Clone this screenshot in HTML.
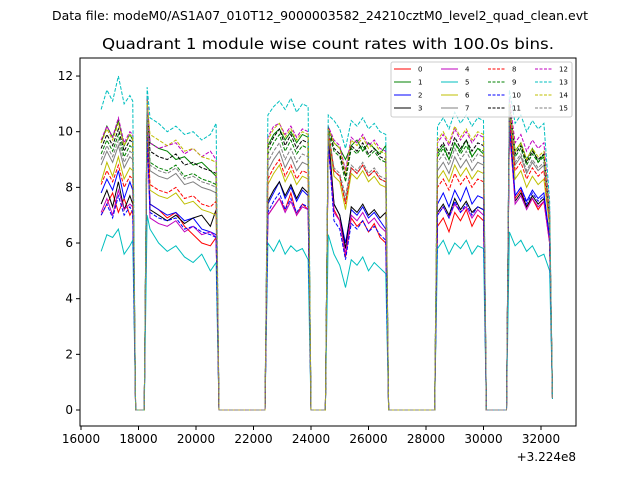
<!DOCTYPE html>
<html><head><meta charset="utf-8"><style>
body{margin:0;background:#fff}
svg text{font-family:"DejaVu Sans","Liberation Sans",sans-serif}
</style></head><body>
<svg id="chart" width="640" height="480" viewBox="0 0 640 480" xmlns="http://www.w3.org/2000/svg">
<rect width="640" height="480" fill="#fff"/>
<text x="320" y="20" font-size="12" text-anchor="middle" textLength="536" lengthAdjust="spacingAndGlyphs">Data file: modeM0/AS1A07_010T12_9000003582_24210cztM0_level2_quad_clean.evt</text>
<text x="328" y="49" font-size="15" text-anchor="middle" textLength="452" lengthAdjust="spacingAndGlyphs">Quadrant 1 module wise count rates with 100.0s bins.</text>
<g id="plot"></g>
<g id="axes"></g>
<g id="legend"></g>
</svg>
<script>
const times=[16700,16900,17100,17300,17500,17700,17800,17900,18200,18300,18400,18700,19000,19300,19600,19900,20200,20500,20700,20800,22400,22500,22700,22900,23100,23300,23500,23700,23900,24000,24500,24600,24800,25000,25200,25400,25600,25800,26000,26200,26400,26600,26700,28300,28400,28600,28800,29000,29200,29400,29600,29800,30000,30100,30800,30900,31100,31300,31500,31700,31900,32100,32300,32400];
const s0=[7.0,7.4,7.8,7.1,7.6,7.0,7.2,0,0,10.0,7.4,7.2,6.9,7.1,6.6,6.3,6.0,5.9,6.2,0,0,7.0,7.3,7.6,7.2,7.8,7.0,7.4,7.2,0,0,9.5,7.2,6.8,5.5,6.9,6.6,6.8,6.4,6.7,6.2,6.0,0,0,6.6,6.9,6.4,7.1,6.8,7.2,6.6,7.0,6.8,0,0,10.0,7.6,7.9,7.3,7.6,7.2,7.5,6.0,0.4];
const s1=[9.6,10.2,9.8,10.4,9.5,9.9,9.7,0,0,11.0,9.6,9.4,9.3,9.0,9.1,8.8,8.9,8.6,8.4,0,0,9.5,9.9,10.1,9.7,10.0,9.6,9.9,9.8,0,0,10.1,9.6,9.4,9.0,9.5,9.7,9.3,9.6,9.4,9.2,9.5,0,0,9.2,9.5,9.0,9.6,9.3,9.7,9.1,9.4,9.2,0,0,11.0,9.3,9.6,9.0,9.4,8.9,9.2,6.5,0.4];
const s2=[7.8,8.3,7.9,8.6,7.6,8.2,7.9,0,0,10.4,7.4,7.2,7.0,7.1,6.8,6.9,6.5,6.4,6.3,0,0,7.4,7.8,8.2,7.6,8.0,7.5,7.9,7.7,0,0,9.7,7.4,7.0,6.0,7.2,7.0,7.3,6.9,7.1,6.8,6.5,0,0,7.4,7.8,7.3,7.9,7.5,8.0,7.4,7.7,7.6,0,0,10.5,7.7,8.0,7.5,7.9,7.6,7.8,6.2,0.4];
const s3=[7.4,7.9,7.3,8.2,7.2,7.7,7.4,0,0,10.6,7.2,7.0,6.8,7.0,6.7,6.9,7.0,6.6,7.2,0,0,7.5,7.9,8.2,7.7,8.1,7.6,8.0,7.8,0,0,10.0,7.4,7.0,5.8,7.3,7.1,7.4,7.0,7.2,6.9,7.1,0,0,7.1,7.4,7.0,7.6,7.2,7.5,7.1,7.3,7.2,0,0,10.6,7.5,7.8,7.3,7.7,7.4,7.6,6.1,0.4];
const s4=[7.1,7.6,7.0,7.9,7.2,7.4,7.3,0,0,10.2,6.9,6.7,6.6,6.8,6.4,6.6,6.3,6.4,6.2,0,0,7.0,7.3,7.6,7.1,7.5,7.0,7.3,7.2,0,0,9.6,7.1,6.8,5.6,7.0,6.8,7.1,6.7,6.9,6.6,6.4,0,0,7.0,7.3,6.9,7.4,7.1,7.3,6.9,7.2,7.0,0,0,10.3,7.4,7.7,7.2,7.6,7.3,7.5,6.0,0.4];
const s5=[5.7,6.3,6.2,6.5,5.6,5.9,6.1,0,0,7.0,6.5,6.0,5.7,5.9,5.5,5.3,5.6,5.0,5.3,0,0,6.0,5.7,6.1,5.6,5.9,5.7,5.8,5.4,0,0,6.3,5.6,5.2,4.4,5.4,5.2,5.5,5.0,5.3,5.1,4.9,0,0,5.8,6.1,5.6,6.0,5.8,6.1,5.6,5.9,5.8,0,0,6.4,5.9,6.1,5.7,5.9,5.5,5.6,5.0,0.4];
const s6=[8.2,8.9,8.4,9.1,8.3,8.7,8.6,0,0,10.8,7.9,7.7,7.6,7.8,7.4,7.5,7.2,7.1,7.0,0,0,8.1,8.5,8.8,8.2,8.6,8.1,8.4,8.3,0,0,9.9,8.4,8.2,7.2,8.5,8.3,8.6,8.2,8.4,8.1,8.0,0,0,8.3,8.6,8.2,8.8,8.4,8.7,8.3,8.6,8.5,0,0,10.8,8.3,8.6,8.0,8.4,8.1,8.3,6.6,0.4];
const s7=[8.8,9.3,8.9,9.5,8.7,9.1,9.0,0,0,10.9,8.6,8.4,8.3,8.5,8.1,8.2,8.0,7.9,7.8,0,0,8.6,9.0,9.3,8.7,9.1,8.6,8.9,8.8,0,0,10.0,8.6,8.4,7.5,8.7,8.5,8.8,8.4,8.6,8.3,8.2,0,0,8.6,8.9,8.5,9.1,8.7,9.0,8.6,8.9,8.8,0,0,10.9,8.8,9.1,8.5,8.9,8.6,8.8,6.9,0.4];
const s8=[8.1,8.6,8.2,8.8,8.0,8.4,8.3,0,0,10.5,8.1,7.9,7.8,8.0,7.6,7.7,7.4,7.3,7.5,0,0,8.3,8.7,9.0,8.4,8.8,8.3,8.6,8.5,0,0,10.1,8.6,8.4,7.4,8.7,8.5,8.8,8.4,8.6,8.3,8.2,0,0,8.0,8.3,7.9,8.5,8.1,8.4,8.0,8.3,8.2,0,0,10.6,8.6,8.9,8.3,8.7,8.4,8.6,6.8,0.4];
const s9=[9.2,9.7,9.3,9.9,9.1,9.5,9.4,0,0,11.2,8.9,8.7,8.6,8.8,8.4,8.5,8.3,8.2,8.1,0,0,9.2,9.6,9.9,9.3,9.7,9.2,9.5,9.4,0,0,10.0,9.3,9.1,8.2,9.4,9.2,9.5,9.1,9.3,9.0,8.9,0,0,9.1,9.4,9.0,9.6,9.2,9.5,9.1,9.4,9.3,0,0,11.0,9.1,9.4,8.8,9.2,8.9,9.1,7.0,0.4];
const s10=[7.0,7.4,6.9,7.7,7.0,7.3,7.1,0,0,10.0,7.1,6.9,6.8,6.9,6.5,6.6,6.4,6.3,6.2,0,0,7.1,7.5,7.8,7.2,7.6,7.1,7.4,7.3,0,0,9.6,6.8,6.5,5.4,6.7,6.5,6.8,6.4,6.6,6.3,6.1,0,0,7.0,7.3,6.9,7.5,7.1,7.4,7.0,7.3,7.2,0,0,10.2,7.7,8.0,7.4,7.8,7.5,7.7,6.2,0.4];
const s11=[9.4,9.9,9.5,10.1,9.3,9.7,9.6,0,0,11.0,9.3,9.1,9.0,9.2,8.8,8.9,8.7,8.6,8.5,0,0,9.4,9.8,10.1,9.5,9.9,9.4,9.7,9.6,0,0,10.2,9.4,9.2,8.4,9.5,9.3,9.6,9.2,9.4,9.1,9.0,0,0,9.3,9.6,9.2,9.8,9.4,9.7,9.3,9.6,9.5,0,0,11.0,9.2,9.5,8.9,9.3,9.0,9.2,7.0,0.4];
const s12=[9.7,10.2,9.8,10.5,9.6,10.0,9.9,0,0,11.3,9.6,9.4,9.5,9.6,9.2,9.4,9.1,9.3,9.0,0,0,9.8,10.2,10.3,9.9,10.2,9.8,10.1,10.0,0,0,10.2,9.7,9.5,8.6,9.8,9.6,9.9,9.5,9.7,9.4,9.3,0,0,9.6,9.9,9.5,10.1,9.7,10.0,9.6,9.9,9.8,0,0,11.2,9.6,9.9,9.3,9.7,9.4,9.6,7.2,0.4];
const s13=[10.8,11.5,11.1,12.0,11.0,11.3,11.1,0,0,11.6,10.5,10.3,10.0,10.2,9.9,10.0,9.7,9.9,10.3,0,0,10.6,10.9,11.1,10.8,11.2,10.7,11.0,10.9,0,0,10.6,10.4,10.1,9.4,10.4,10.2,10.5,10.1,10.3,10.0,9.9,0,0,10.2,10.5,10.1,10.7,10.3,10.6,10.2,10.5,10.4,0,0,11.5,10.3,10.6,10.0,10.4,10.1,10.3,7.5,0.4];
const s14=[9.6,10.1,9.7,10.3,9.5,9.9,9.8,0,0,11.1,9.9,9.7,9.5,9.7,9.3,9.4,9.1,9.0,8.9,0,0,9.7,10.1,10.3,9.8,10.1,9.7,10.0,9.9,0,0,10.1,9.6,9.4,8.5,9.7,9.5,9.8,9.4,9.6,9.3,9.2,0,0,9.7,10.0,9.6,10.2,9.8,10.1,9.7,10.0,9.9,0,0,11.0,9.3,9.6,9.0,9.4,9.1,9.3,7.0,0.4];
const s15=[9.0,9.5,9.1,9.7,8.9,9.3,9.2,0,0,10.9,8.8,8.6,8.5,8.7,8.3,8.4,8.2,8.1,8.0,0,0,8.9,9.3,9.6,9.0,9.4,8.9,9.2,9.1,0,0,10.0,8.7,8.5,7.7,8.8,8.6,8.9,8.5,8.7,8.4,8.3,0,0,8.9,9.2,8.8,9.4,9.0,9.3,8.9,9.2,9.1,0,0,10.9,8.9,9.2,8.6,9.0,8.7,8.9,6.9,0.4];
const series=[s0,s1,s2,s3,s4,s5,s6,s7,s8,s9,s10,s11,s12,s13,s14,s15];
const seriesLabels=["0","1","2","3","4","5","6","7","8","9","10","11","12","13","14","15"];
const xTicks=[16000,18000,20000,22000,24000,26000,28000,30000,32000];
const yTicks=[0,2,4,6,8,10,12];

const colors=["#ff0000","#008000","#0000ff","#000000","#bf00bf","#00bfbf","#bfbf00","#808080"];
const L=80,R=576,T=58,B=426;
function xs(v){return 81+(v-16000)*0.02875;}
function ys(v){return 410-v*27.83;}
const NS="http://www.w3.org/2000/svg";
function mk(t,a){const e=document.createElementNS(NS,t);for(const k in a)e.setAttribute(k,a[k]);return e;}
const plot=document.getElementById('plot'),axes=document.getElementById('axes'),leg=document.getElementById('legend');
const clip=mk('clipPath',{id:'cp'});clip.appendChild(mk('rect',{x:L,y:T,width:R-L,height:B-T}));plot.appendChild(clip);
series.forEach((s,i)=>{
  const d=s.map((v,j)=>(j?'L':'M')+xs(times[j]).toFixed(2)+' '+ys(v).toFixed(2)).join(' ');
  const p=mk('path',{d:d,fill:'none',stroke:colors[i%8],'stroke-width':1,'clip-path':'url(#cp)'});
  if(i>=8)p.setAttribute('stroke-dasharray','3.7,1.6');
  
  
  plot.appendChild(p);
});
const frame=mk('rect',{x:L,y:T,width:R-L,height:B-T,fill:'none',stroke:'#000','stroke-width':1});


axes.appendChild(frame);
xTicks.forEach(v=>{
  const x=xs(v);
  axes.appendChild(mk('line',{x1:x,x2:x,y1:B,y2:B+4,stroke:'#000'}));
  const t=mk('text',{x:x,y:B+17,'font-size':12,'text-anchor':'middle'});t.textContent=v;
  
  
  axes.appendChild(t);
});
yTicks.forEach(v=>{
  const y=ys(v);
  axes.appendChild(mk('line',{x1:L-4,x2:L,y1:y,y2:y,stroke:'#000'}));
  const t=mk('text',{x:L-7,y:y+4,'font-size':12,'text-anchor':'end'});t.textContent=v;
  
  
  axes.appendChild(t);
});
const off=mk('text',{x:576,y:466,'font-size':12,'text-anchor':'end'});off.textContent='+3.224e8';
off.setAttribute('y','461');


axes.appendChild(off);
const lb=mk('rect',{x:391,y:62,width:181,height:55,fill:'#fff','fill-opacity':0.8,stroke:'#ccc',rx:2});


leg.appendChild(lb);
const colX=[394,441,488,535],rowY=[69,82,95,108];
seriesLabels.forEach((lab,i)=>{
  const c=Math.floor(i/4),r=i%4;
  const g=mk('g',{});
  
  
  const ln=mk('line',{x1:colX[c],x2:colX[c]+17,y1:rowY[r],y2:rowY[r],stroke:colors[i%8],'stroke-width':1});
  if(i>=8)ln.setAttribute('stroke-dasharray','3,1.5');
  g.appendChild(ln);
  const t=mk('text',{x:colX[c]+24,y:rowY[r]+2.5,'font-size':7});t.textContent=lab;
  g.appendChild(t);
  leg.appendChild(g);
});
</script>
</body></html>
